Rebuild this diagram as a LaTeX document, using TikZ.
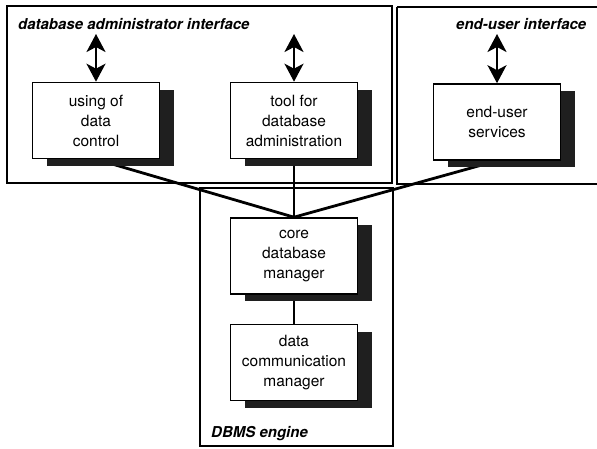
\documentclass[tikz,border=0pt]{standalone}
\usepackage{fontspec}
\setmainfont{TeX Gyre Heros}
\usetikzlibrary{arrows.meta,shadows,backgrounds}
\begin{document}
\begin{tikzpicture}[x=1pt,y=-1pt,
  frame/.style={draw=black, line width=1.3pt},
  unit/.style={draw=black, line width=1.6pt, fill=white, minimum width=127pt, minimum height=76pt,
    align=center, inner sep=0pt, font=\fontsize{15.5}{20}\selectfont,
    general shadow={fill=black!88, shadow xshift=14pt, shadow yshift=-7pt}},
  lab/.style={anchor=base west, inner sep=0pt, font=\fontsize{15}{18}\selectfont\bfseries\itshape},
  dbl/.style={line width=2.5pt, {Stealth[length=18pt,width=19pt,inset=5pt]}-{Stealth[length=18pt,width=19pt,inset=5pt]}},
  thicklink/.style={line width=2.8pt},
  thinlink/.style={line width=1.4pt}]
\useasboundingbox (0,0) rectangle (597,448);
% outer frames
\draw[frame] (7,6) rectangle (392,183);
\draw[frame] (397,7) -- (600,7);
\draw[frame] (397,7) -- (397,184) -- (600,184);
\draw[frame] (200,188) rectangle (393,446);
% labels
\node[lab] (ladmin) at (18,29) {database administrator interface};
\node[lab] (luser) at (456,29) {end-user interface};
\node[lab] (ldbms) at (211,437) {DBMS engine};
% arrow tops
\coordinate (a1) at (96,34);
\coordinate (a2) at (294,34);
\coordinate (a3) at (497,34);
% boxes
\node[unit] (using) at (96,120.5) {using of\\data\\control};
\node[unit] (tool) at (294,120.5) {tool for\\database\\administration};
\node[unit] (enduser) at (497,122) {end-user\\services};
\node[unit] (core) at (294,256) {core\\database\\manager};
\node[unit] (dcm) at (294,362.5) {data\\communication\\manager};
% connectors under the boxes
\begin{scope}[on background layer]
\draw[thicklink] (using.south) -- (core.north);
\draw[thicklink] (enduser.south) -- (core.north);
\draw[thinlink] (tool.south) -- (core.north);
\draw[thinlink] (core.south) -- (dcm.north);
\end{scope}
\draw[dbl] (a1) -- (using.north);
\draw[dbl] (a2) -- (tool.north);
\draw[dbl] (a3) -- (enduser.north);
\end{tikzpicture}
\end{document}
